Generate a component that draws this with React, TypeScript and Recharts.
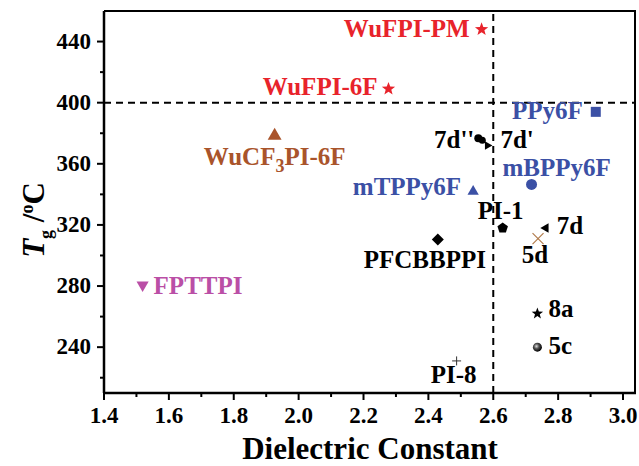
import React from "react";
import { ScatterChart, Scatter, XAxis, YAxis, ReferenceLine } from "recharts";

// 材料名称、介电常数、玻璃化温度
const names = ["WuFPI-PM", "WuFPI-6F", "WuCF3PI-6F", "FPTTPI", "PPy6F", "7d''", "7d'", "mBPPy6F", "mTPPy6F", "PI-1", "7d", "5d", "PFCBBPPI", "8a", "5c", "PI-8"];
const dielectric = [2.564, 2.277, 1.926, 1.519, 2.916, 2.56, 2.582, 2.718, 2.538, 2.629, 2.762, 2.738, 2.429, 2.736, 2.736, 2.487];
const tg = [448, 409, 379, 280, 394, 376, 372, 346.5, 342.5, 318, 318, 311, 310.5, 262, 240, 231];

const xMajorTicks = [1.4, 1.6, 1.8, 2.0, 2.2, 2.4, 2.6, 2.8, 3.0];
const xMinorTicks = [1.5, 1.7, 1.9, 2.1, 2.3, 2.5, 2.7, 2.9];
const yMajorTicks = [240, 280, 320, 360, 400, 440];
const yMinorTicks = [220, 260, 300, 340, 380, 420];
const xDomain = [1.4, 3.04];
const yDomain = [210, 460];

const RED = "#e8232b";
const BLUE = "#3b50a5";
const BROWN = "#a9542b";
const PINK = "#ba4fa6";
const FONT = "Liberation Serif";
const W = 639;
const H = 466;
const MARGIN = { top: 11, right: 3, left: 0, bottom: 0 };
const Y_AXIS_W = 104;
const X_AXIS_H = 73;

// 每个点的标记和标签位置
const styles: Record<string, { m: string; c: string; s: number; dx: number; dy: number; a: string }> = {
  "WuFPI-PM": { m: "star", c: RED, s: 7, dx: -12, dy: 8, a: "end" },
  "WuFPI-6F": { m: "star", c: RED, s: 7, dx: -11, dy: 6, a: "end" },
  "WuCF3PI-6F": { m: "tri", c: BROWN, s: 8, dx: 0, dy: 30, a: "middle" },
  FPTTPI: { m: "triDown", c: PINK, s: 7, dx: 11, dy: 8, a: "start" },
  PPy6F: { m: "square", c: BLUE, s: 5, dx: -13, dy: 7, a: "end" },
  "7d''": { m: "blob", c: "#000", s: 5, dx: -6, dy: 9, a: "end" },
  "7d'": { m: "triRight", c: "#000", s: 5, dx: 13, dy: 3, a: "start" },
  mBPPy6F: { m: "circle", c: BLUE, s: 5.5, dx: 25, dy: -8, a: "middle" },
  mTPPy6F: { m: "tri", c: BLUE, s: 6.5, dx: -12, dy: 4, a: "end" },
  "PI-1": { m: "pentagon", c: "#000", s: 5.5, dx: -2, dy: -9, a: "middle" },
  "7d": { m: "triLeft", c: "#000", s: 5.5, dx: 11, dy: 6, a: "start" },
  "5d": { m: "x", c: "#b07a4a", s: 5.5, dx: -3, dy: 24, a: "middle" },
  PFCBBPPI: { m: "diamond", c: "#000", s: 6, dx: -13, dy: 29, a: "middle" },
  "8a": { m: "star", c: "#000", s: 6, dx: 11, dy: 3, a: "start" },
  "5c": { m: "sphere", c: "#000", s: 4.5, dx: 11, dy: 7, a: "start" },
  "PI-8": { m: "plus", c: "#333", s: 4.5, dx: -3, dy: 22, a: "middle" },
};

const points = names.map((name, i) => ({ name, x: dielectric[i], y: tg[i] }));

function poly(cx: number, cy: number, r: number, n: number, rot: number, inner?: number) {
  const pts: string[] = [];
  const count = inner ? n * 2 : n;
  for (let i = 0; i < count; i++) {
    const rr = inner && i % 2 === 1 ? inner : r;
    const ang = rot + (i * Math.PI * 2) / count;
    pts.push(`${cx + rr * Math.cos(ang)},${cy + rr * Math.sin(ang)}`);
  }
  return pts.join(" ");
}

function Marker({ m, c, s, cx, cy }: any) {
  const up = -Math.PI / 2;
  switch (m) {
    case "star":
      return <polygon points={poly(cx, cy, s, 5, up, s * 0.42)} fill={c} />;
    case "tri":
      return <polygon points={poly(cx, cy + 1, s, 3, up)} fill={c} />;
    case "triDown":
      return <polygon points={poly(cx, cy - 1, s, 3, Math.PI / 2)} fill={c} />;
    case "triRight":
      return <polygon points={poly(cx, cy, s, 3, 0)} fill={c} />;
    case "triLeft":
      return <polygon points={poly(cx, cy, s, 3, Math.PI)} fill={c} />;
    case "square":
      return <rect x={cx - s} y={cy - s} width={s * 2} height={s * 2} fill={c} />;
    case "circle":
      return <circle cx={cx} cy={cy} r={s} fill={c} />;
    case "blob":
      return (
        <g fill={c}>
          <circle cx={cx - 2} cy={cy - 1} r={s - 1} />
          <circle cx={cx + 2} cy={cy + 1} r={s - 1.5} />
        </g>
      );
    case "pentagon":
      return <polygon points={poly(cx, cy, s, 5, up)} fill={c} />;
    case "diamond":
      return <polygon points={poly(cx, cy, s, 4, up)} fill={c} />;
    case "x":
      return (
        <g stroke={c} strokeWidth={1.2}>
          <line x1={cx - s} y1={cy - s} x2={cx + s} y2={cy + s} />
          <line x1={cx - s} y1={cy + s} x2={cx + s} y2={cy - s} />
        </g>
      );
    case "plus":
      return (
        <g stroke={c} strokeWidth={1}>
          <line x1={cx - s} y1={cy} x2={cx + s} y2={cy} />
          <line x1={cx} y1={cy - s} x2={cx} y2={cy + s} />
        </g>
      );
    case "sphere":
      return (
        <g>
          <defs>
            <radialGradient id="sph" cx="0.4" cy="0.4" r="0.6">
              <stop offset="0%" stopColor="#ddd" />
              <stop offset="45%" stopColor="#555" />
              <stop offset="100%" stopColor="#000" />
            </radialGradient>
          </defs>
          <circle cx={cx} cy={cy} r={s} fill="url(#sph)" />
        </g>
      );
    default:
      return null;
  }
}

const txt = { fontFamily: FONT, fontWeight: 700 } as React.CSSProperties;

function PointShape(props: any) {
  const { cx, cy, payload } = props;
  const st = styles[payload.name];
  const label = payload.name as string;
  const sub = label.match(/^(.*CF)(3)(.*)$/);
  return (
    <g>
      <Marker {...st} cx={cx} cy={cy} />
      <text x={cx + st.dx} y={cy + st.dy} textAnchor={st.a as any} fill={st.c === "#b07a4a" || st.c === "#333" ? "#000" : st.c} style={{ ...txt, fontSize: 25 }}>
        {sub ? (
          <>
            <tspan>{sub[1]}</tspan>
            <tspan dy={7} style={{ fontSize: 18 }}>{sub[2]}</tspan>
            <tspan dy={-7}>{sub[3]}</tspan>
          </>
        ) : (
          label
        )}
      </text>
    </g>
  );
}

const near = (v: number, arr: number[]) => arr.some((a) => Math.abs(a - v) < 1e-6);

function XTick({ x, y, payload }: any) {
  const major = near(payload.value, xMajorTicks);
  return (
    <g>
      <line x1={x} x2={x} y1={y} y2={y + (major ? 7 : 4)} stroke="#000" strokeWidth={2} />
      {major && (
        <text x={x} y={y + 30} textAnchor="middle" fill="#000" style={{ ...txt, fontSize: 23 }}>
          {payload.value.toFixed(1)}
        </text>
      )}
    </g>
  );
}

function YTick({ x, y, payload }: any) {
  const major = near(payload.value, yMajorTicks);
  return (
    <g>
      <line x1={x} x2={x - (major ? 7 : 4)} y1={y} y2={y} stroke="#000" strokeWidth={2} />
      {major && (
        <text x={x - 13} y={y + 7} textAnchor="end" fill="#000" style={{ ...txt, fontSize: 23 }}>
          {payload.value}
        </text>
      )}
    </g>
  );
}

const XTitle = (props: any) => {
  const vb = props.viewBox || { x: 104, y: 393, width: 532, height: 73 };
  return (
    <text x={vb.x + vb.width / 2} y={vb.y + 66} textAnchor="middle" fill="#000" style={{ ...txt, fontSize: 31 }}>
      Dielectric Constant
    </text>
  );
};

const YTitle = () => (
  <text transform="translate(44,220) rotate(-90)" textAnchor="middle" fill="#000" style={{ ...txt, fontSize: 31 }}>
    <tspan style={{ fontStyle: "italic" }}>T</tspan>
    <tspan dy={8} style={{ fontSize: 18 }}>g</tspan>
    <tspan dy={-8}> /</tspan>
    <tspan dy={-11} style={{ fontSize: 18 }}>o</tspan>
    <tspan dy={11}>C</tspan>
  </text>
);

export default function App() {
  const allX = [...xMajorTicks, ...xMinorTicks].sort((a, b) => a - b);
  const allY = [...yMinorTicks, ...yMajorTicks].sort((a, b) => a - b);
  // 顶部和右侧边框
  const plotLeft = MARGIN.left + Y_AXIS_W;
  const plotTop = MARGIN.top;
  const plotW = W - MARGIN.right - plotLeft;
  const plotH = H - MARGIN.bottom - X_AXIS_H - plotTop;
  return (
    <div style={{ position: "absolute", left: 0, top: 0, width: W, height: H, background: "#fff" }}>
      <ScatterChart width={W} height={H} margin={MARGIN}>
        <XAxis
          dataKey="x"
          type="number"
          domain={xDomain}
          ticks={allX}
          interval={0}
          allowDataOverflow
          height={X_AXIS_H}
          tickLine={false}
          tickSize={0}
          tickMargin={0}
          tick={<XTick />}
          axisLine={{ stroke: "#000", strokeWidth: 2.5 }}
          label={{ content: XTitle }}
        />
        <YAxis
          dataKey="y"
          type="number"
          domain={yDomain}
          ticks={allY}
          interval={0}
          allowDataOverflow
          width={Y_AXIS_W}
          tickLine={false}
          tickSize={0}
          tickMargin={0}
          tick={<YTick />}
          axisLine={{ stroke: "#000", strokeWidth: 2.5 }}
          label={{ content: YTitle }}
        />
        <ReferenceLine y={400} stroke="#000" strokeWidth={2} strokeDasharray="7 5" />
        <ReferenceLine x={2.6} stroke="#000" strokeWidth={2} strokeDasharray="7 5" />
        {points.map((p) => (
          <Scatter key={p.name} data={[p]} shape={PointShape} isAnimationActive={false} />
        ))}
      </ScatterChart>
      <div
        style={{
          position: "absolute",
          left: plotLeft,
          top: plotTop - 1,
          width: plotW,
          height: plotH,
          borderTop: "2px solid #000",
          borderRight: "2px solid #000",
          boxSizing: "border-box",
          pointerEvents: "none",
        }}
      />
    </div>
  );
}
